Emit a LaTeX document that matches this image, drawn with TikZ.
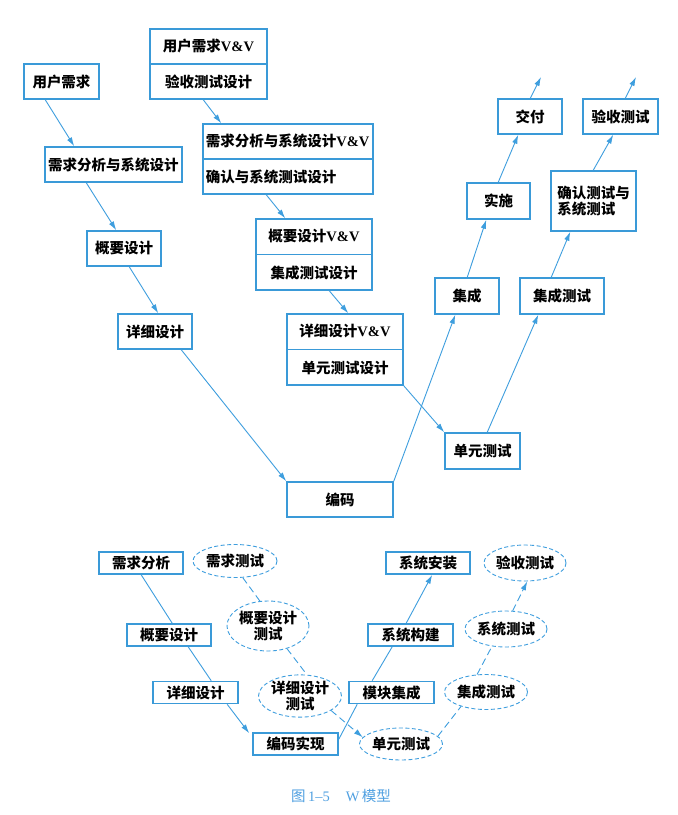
\documentclass[tikz,border=0pt]{standalone}
\usepackage{fontspec}
\setmainfont{Noto Sans CJK SC}
\newfontfamily\lat{Liberation Serif}
\usetikzlibrary{calc,arrows.meta,shapes.geometric}
\definecolor{bblue}{RGB}{58,154,216}
\definecolor{lblue}{RGB}{62,158,222}
\definecolor{capblue}{RGB}{80,160,225}
\begin{document}
\begin{tikzpicture}[x=1pt,y=-1pt,
  box/.style={draw=bblue,line width=1.5pt,inner sep=0pt,font=\fontsize{14.5}{17}\selectfont\bfseries},
  txt/.style={inner sep=0pt,font=\fontsize{14.5}{17}\selectfont\bfseries},
  sbox/.style={draw=bblue,line width=1.6pt,inner sep=0pt,minimum height=22,font=\fontsize{14.5}{17}\selectfont\bfseries},
  ell/.style={ellipse,draw=lblue,dash pattern=on 4pt off 2.5pt,line width=0.9pt,inner sep=0pt,align=center,font=\fontsize{14.5}{16}\selectfont\bfseries},
  con/.style={draw=lblue,line width=0.9pt},
  arr/.style={con,-{Latex[length=9pt,width=5.5pt]}},
  dcon/.style={draw=lblue,line width=0.9pt,dash pattern=on 7pt off 4pt},
  darr/.style={dcon,-{Latex[length=9pt,width=5.5pt]}}]
\useasboundingbox (0,0) rectangle (678,815);
\fill[white] (0,0) rectangle (678,815);
% ---------- upper W (V) model ----------
\node[box,minimum width=75,minimum height=35] (u1) at (61.5,81.5) {用户需求};
\node[box,minimum width=137,minimum height=35] (u2) at (113.5,164.5) {需求分析与系统设计};
\node[box,minimum width=74,minimum height=35] (u3) at (124,248.5) {概要设计};
\node[box,minimum width=74,minimum height=35] (u4) at (155,331.5) {详细设计};
\node[box,minimum width=106,minimum height=35] (u5) at (340,499.5) {编码};
% two-part boxes
\node[box,minimum width=117,minimum height=70] (v1) at (208.5,64) {};
\draw[draw=bblue,line width=1.5pt] (v1.west) -- (v1.east);
\node[txt] (v1a) at ($(v1.north)!0.25!(v1.south)$) {用户需求{\lat V\&V}};
\node[txt] (v1b) at ($(v1.north)!0.75!(v1.south)$) {验收测试设计};
\node[box,minimum width=170,minimum height=70] (v2) at (288,159) {};
\draw[draw=bblue,line width=1.5pt] (v2.west) -- (v2.east);
\node[txt,anchor=west] (v2a) at ($(v2.north west)!0.25!(v2.south west)+(3.5,0)$) {需求分析与系统设计{\lat V\&V}};
\node[txt,anchor=west] (v2b) at ($(v2.north west)!0.75!(v2.south west)+(3.5,0)$) {确认与系统测试设计};
\node[box,minimum width=116,minimum height=71] (v3) at (314,254.5) {};
\draw[draw=bblue,line width=1.5pt] (v3.west) -- (v3.east);
\node[txt] (v3a) at ($(v3.north)!0.25!(v3.south)$) {概要设计{\lat V\&V}};
\node[txt] (v3b) at ($(v3.north)!0.75!(v3.south)$) {集成测试设计};
\node[box,minimum width=116,minimum height=71] (v4) at (345,349.5) {};
\draw[draw=bblue,line width=1.5pt] (v4.west) -- (v4.east);
\node[txt] (v4a) at ($(v4.north)!0.25!(v4.south)$) {详细设计{\lat V\&V}};
\node[txt] (v4b) at ($(v4.north)!0.75!(v4.south)$) {单元测试设计};
% right branch
\node[box,minimum width=75,minimum height=36] (r1) at (482.5,451) {单元测试};
\node[box,minimum width=64,minimum height=36] (r2) at (467,296) {集成};
\node[box,minimum width=84,minimum height=36] (r3) at (562,296) {集成测试};
\node[box,minimum width=63,minimum height=36] (r4) at (498.5,201) {实施};
\node[box,minimum width=85,minimum height=60] (r5) at (593.5,201) {};
\node[txt,anchor=west,align=left,font=\fontsize{14.5}{15.5}\selectfont\bfseries] (r5t) at ($(r5.west)+(7,0)$) {确认测试与\\系统测试};
\node[box,minimum width=64,minimum height=35] (r6) at (530,116.5) {交付};
\node[box,minimum width=75,minimum height=35] (r7) at (620.5,116.5) {验收测试};
\coordinate (o1) at (541,77);
\coordinate (o2) at (636,77);
% connectors
\draw[arr] ($(u1.south west)+(22,0)$) -- ($(u2.north west)+(30,0)$);
\draw[arr] ($(u2.south west)+(42,0)$) -- ($(u3.north west)+(30,0)$);
\draw[arr] ($(u3.south west)+(43,0)$) -- ($(u4.north west)+(41,0)$);
\draw[arr] ($(u4.south west)+(64,0)$) -- (u5.north west);
\draw[arr] ($(v1.south west)+(54,0)$) -- ($(v2.north west)+(19,0)$);
\draw[arr] ($(v2.south west)+(64,0)$) -- ($(v3.north west)+(30,0)$);
\draw[arr] ($(v3.south west)+(74,0)$) -- ($(v4.north west)+(62,0)$);
\draw[arr] (v4.south east) -- (r1.north west);
\draw[arr] (u5.north east) -- ($(r2.south west)+(21,0)$);
\draw[arr] ($(r2.north west)+(33,0)$) -- ($(r4.south west)+(20,0)$);
\draw[arr] ($(r4.north west)+(32,0)$) -- ($(r6.south west)+(21,0)$);
\draw[arr] ($(r6.north west)+(33,0)$) -- (o1);
\draw[arr] ($(r1.north west)+(43,0)$) -- ($(r3.south west)+(19,0)$);
\draw[arr] ($(r3.north west)+(32,0)$) -- ($(r5.south west)+(20,0)$);
\draw[arr] ($(r5.north west)+(43,0)$) -- ($(r7.south west)+(31,0)$);
\draw[arr] ($(r7.north west)+(43,0)$) -- (o2);
% ---------- lower W model ----------
\node[sbox,minimum width=84] (b1) at (141,563) {需求分析};
\node[sbox,minimum width=84] (b2) at (169,635) {概要设计};
\node[sbox,minimum width=85] (b3) at (195.5,692.5) {详细设计};
\node[sbox,minimum width=85] (b4) at (295.5,744) {编码实现};
\node[sbox,minimum width=85] (b5) at (391.5,692.5) {模块集成};
\node[sbox,minimum width=85] (b6) at (410.5,635) {系统构建};
\node[sbox,minimum width=84] (b7) at (428,563) {系统安装};
\node[ell,minimum width=84,minimum height=33] (e1) at (235,561) {需求测试};
\node[ell,minimum width=82,minimum height=50] (e2) at (268,626) {概要设计\\测试};
\node[ell,minimum width=83,minimum height=42] (e3) at (300,696) {详细设计\\测试};
\node[ell,minimum width=83,minimum height=32] (e4) at (401,744) {单元测试};
\node[ell,minimum width=83,minimum height=35] (e5) at (486,692) {集成测试};
\node[ell,minimum width=82,minimum height=36] (e6) at (506,629) {系统测试};
\node[ell,minimum width=82,minimum height=36] (e7) at (525,563) {验收测试};
\draw[con] ($(b1.south west)+(43,0)$) -- ($(b2.north west)+(46,0)$);
\draw[con] ($(b2.south west)+(62,0)$) -- ($(b3.north west)+(59,0)$);
\draw[arr] ($(b3.south west)+(75,0)$) -- ($(b4.north west)+(-3,1)$);
\draw[con] ($(b4.north east)+(0,7)$) -- ($(b5.south west)+(9,0)$);
\draw[con] ($(b5.north west)+(24,0)$) -- ($(b6.south west)+(25,0)$);
\draw[arr] ($(b6.north west)+(39,0)$) -- ($(b7.south west)+(47,0)$);
\draw[dcon] (e1.-65) -- (e2.108);
\draw[dcon] (e2.-50) -- (e3.72);
\draw[darr] (e3.-25) -- (e4.170);
\draw[dcon] (e4.12) -- (e5.-150);
\draw[dcon] (e5.117) -- (e6.-129);
\draw[darr] (e6.70) -- (e7.-83);
% caption
\node[inner sep=0pt,text=capblue,font=\fontsize{14.5}{16}\selectfont] (cap) at (341,796) {图\,{\lat 1–5}\hspace{16pt}{\lat W}\,模型};
\end{tikzpicture}
\end{document}
